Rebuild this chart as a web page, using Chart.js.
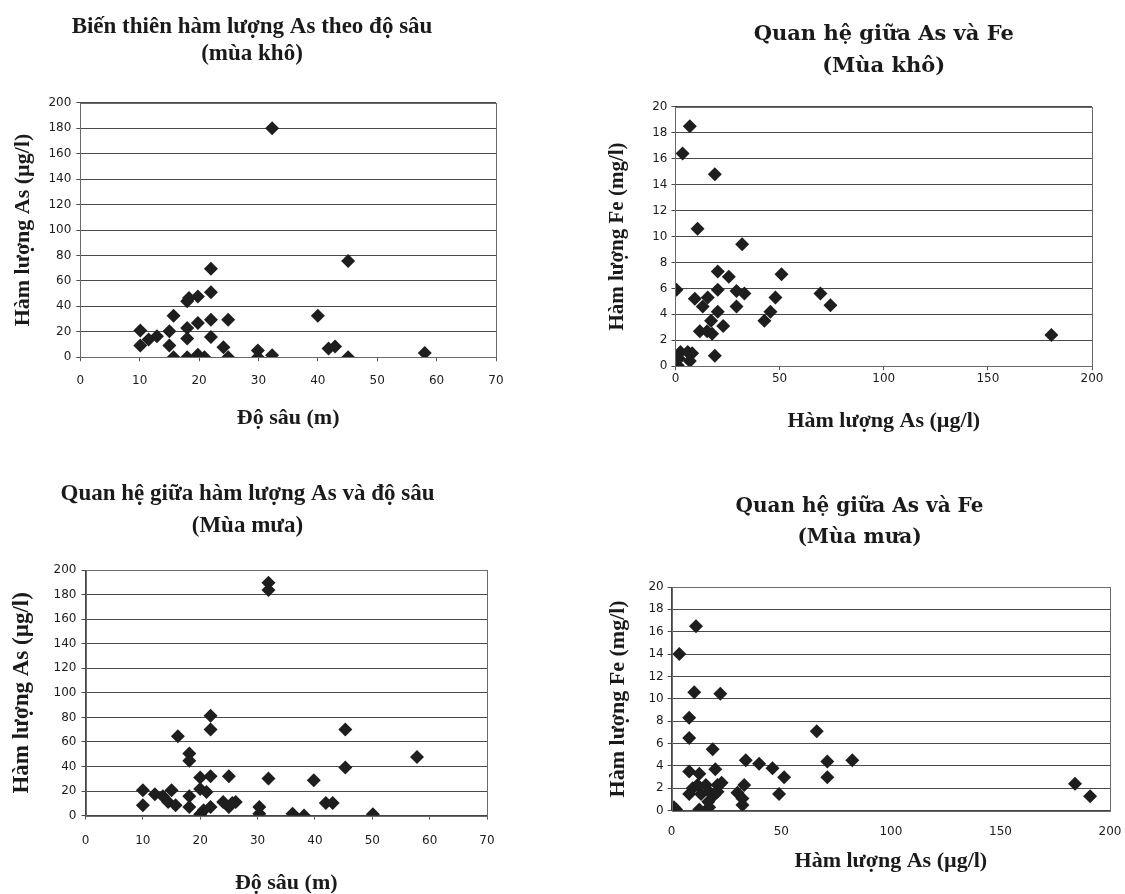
<!DOCTYPE html>
<html>
<head>
<meta charset="utf-8">
<script src="https://cdn.jsdelivr.net/npm/chart.js@4.4.1/dist/chart.umd.min.js"></script>
<style>
  html, body { margin: 0; padding: 0; background: #ffffff; }
  body { width: 1125px; height: 894px; position: relative; overflow: hidden; }
  .box { position: absolute; }
</style>
</head>
<body>
<div class="box" id="b1" style="left:0px;top:0px;width:540px;height:440px"><canvas id="c1"></canvas></div>
<div class="box" id="b2" style="left:600px;top:0px;width:525px;height:440px"><canvas id="c2"></canvas></div>
<div class="box" id="b3" style="left:0px;top:450px;width:510px;height:444px"><canvas id="c3"></canvas></div>
<div class="box" id="b4" style="left:600px;top:450px;width:525px;height:444px"><canvas id="c4"></canvas></div>
<script>
// ---------- DATA ----------
// Chart 1: dry season, depth (m) vs As (µg/l)
const depthDry = [32.3, 45.1, 22, 22, 19.8, 18, 18.3, 15.7, 40, 22, 24.9, 19.8, 18, 10.1, 15, 18, 22, 12.9, 11.5, 10.1, 15, 24.1, 41.8, 42.9, 29.9, 32.3, 29.9, 15.7, 18, 19.8, 20.9, 24.9, 45.1, 58];
const asDry    = [180, 75.7, 69.6, 51, 47.8, 44, 46.5, 32.6, 32.6, 29.4, 29.4, 26.8, 23, 21, 20.5, 14.7, 15.8, 16.5, 14, 9.2, 9.2, 7.9, 6.8, 8.4, 5.3, 1.6, 0, 0, 0, 2, 0, 0, 0, 3.4];

// Chart 2: dry season, As (µg/l) vs Fe (mg/l)
const asFeDryAs = [6.9, 3.4, 18.9, 10.6, 32, 20.3, 25.6, 50.9, 0.5, 20.3, 29.3, 33.1, 69.6, 9.3, 15.5, 48, 13.1, 29.3, 74.4, 20.3, 45.6, 42.7, 17.1, 22.9, 11.7, 15.2, 17.6, 18.9, 180.5, 0.5, 1.1, 2.4, 5.9, 8, 6.9, 0, 1.6];
const feDry     = [18.5, 16.4, 14.8, 10.6, 9.4, 7.3, 6.9, 7.1, 5.9, 5.9, 5.8, 5.6, 5.6, 5.2, 5.3, 5.3, 4.6, 4.6, 4.7, 4.2, 4.2, 3.5, 3.5, 3.1, 2.7, 2.7, 2.5, 0.8, 2.4, 0.7, 0.05, 1.1, 1.1, 1.0, 0.4, 0.4, 0.6];

// Chart 3: rainy season, depth (m) vs As (µg/l)
const depthWet = [31.9, 31.9, 21.8, 21.8, 45.3, 16.1, 18.1, 18.1, 57.8, 45.3, 20, 21.8, 25, 31.9, 39.8, 10, 15, 20, 21.1, 12.1, 13.5, 18.1, 14.4, 24, 26.2, 41.9, 43.1, 10, 15.7, 18.1, 21.8, 25, 20.6, 30.3, 30.3, 20, 36.1, 38.1, 50.1, 25.6];
const asWet    = [189.7, 183.7, 81.3, 70.1, 70.1, 64.7, 50.5, 44.6, 47.8, 39.1, 31, 32, 32, 30.2, 28.8, 20.6, 20.6, 21.7, 19.3, 17.4, 15.8, 15.8, 11.1, 11.1, 11.1, 10.3, 10.3, 8.4, 8.4, 7.1, 7.1, 7.1, 4.3, 7.1, 1.6, 1.1, 1.6, 0, 1.1, 10.3];

// Chart 4: rainy season, As (µg/l) vs Fe (mg/l)
const asFeWetAs = [11.1, 3.5, 10.3, 22.2, 8, 8, 66.2, 18.7, 33.8, 39.9, 46, 71, 82.4, 8, 12.6, 19.9, 51.3, 71, 33.1, 184, 190.9, 49, 30, 32.3, 32.3, 12.6, 17.1, 2, 1, 8, 9.6, 11.8, 13.4, 15.6, 17.1, 19.4, 20.9, 22.8, 20.9, 16.7];
const feWet     = [16.5, 14, 10.6, 10.45, 8.3, 6.5, 7.1, 5.5, 4.5, 4.2, 3.8, 4.4, 4.5, 3.5, 3.3, 3.7, 3.0, 3.0, 2.3, 2.4, 1.3, 1.5, 1.6, 1.1, 0.5, 0.1, 0.3, 0.1, 0.3, 1.5, 2.0, 2.3, 1.5, 2.3, 1.7, 1.4, 2.3, 2.5, 1.7, 0.8];

// Tick labels
const depthTicks = [0, 10, 20, 30, 40, 50, 60, 70];
const asTicks    = [0, 20, 40, 60, 80, 100, 120, 140, 160, 180, 200];
const asXTicks   = [0, 50, 100, 150, 200];
const feTicks    = [0, 2, 4, 6, 8, 10, 12, 14, 16, 18, 20];

// Texts
const titles = [
  ['Biến thiên hàm lượng As theo độ sâu', '(mùa khô)'],
  ['Quan hệ giữa As và Fe', '(Mùa khô)'],
  ['Quan hệ giữa hàm lượng As và độ sâu', '(Mùa mưa)'],
  ['Quan hệ giữa As và Fe', '(Mùa mưa)']
];
const xTitles = ['Độ sâu (m)', 'Hàm lượng As (µg/l)', 'Độ sâu (m)', 'Hàm lượng As (µg/l)'];
const yTitles = ['Hàm lượng As (µg/l)', 'Hàm lượng Fe (mg/l)', 'Hàm lượng As (µg/l)', 'Hàm lượng Fe (mg/l)'];

// ---------- RENDER ----------
const frame = {
  id: 'frame',
  afterDraw(chart) {
    const a = chart.chartArea, ctx = chart.ctx;
    ctx.save();
    ctx.strokeStyle = '#6a6a6a';
    ctx.lineWidth = 1;
    ctx.strokeRect(Math.round(a.left) + 0.5, Math.round(a.top) + 0.5, Math.round(a.right - a.left), Math.round(a.bottom - a.top));
    ctx.restore();
  }
};

function toPts(xs, ys) { return xs.map((x, i) => ({ x: x, y: ys[i] })); }

function make(id, xs, ys, xTicks, yTicks, cfg) {
  new Chart(document.getElementById(id), {
    type: 'scatter',
    data: { datasets: [{
      data: toPts(xs, ys),
      pointStyle: 'rectRot',
      pointRadius: 7,
      pointHoverRadius: 7,
      backgroundColor: '#1e1e1e',
      borderColor: '#1e1e1e',
      borderWidth: 0
    }]},
    options: {
      responsive: true,
      maintainAspectRatio: false,
      animation: false,
      layout: { padding: cfg.pad },
      plugins: {
        legend: { display: false },
        tooltip: { enabled: false },
        title: {
          display: true,
          text: cfg.title,
          fullSize: cfg.fullSize,
          color: '#1a1a1a',
          font: { family: cfg.titleFamily, size: cfg.titleSize, weight: 'bold', lineHeight: cfg.titleLH },
          padding: cfg.titlePad
        }
      },
      scales: {
        x: {
          type: 'linear',
          min: xTicks[0], max: xTicks[xTicks.length - 1],
          afterBuildTicks: s => { s.ticks = xTicks.map(v => ({ value: v })); },
          grid: { display: true, drawOnChartArea: false, drawTicks: true, tickLength: cfg.xTickLen || 4,
                  tickColor: cfg.xTickColor || '#555', color: '#555' },
          border: { display: true, color: '#444', width: 1 },
          ticks: { color: '#1c1c1c', font: { family: 'DejaVu Sans', size: 12 }, padding: cfg.xTickPad, maxRotation: 0 },
          title: { display: true, text: cfg.xTitle, color: '#1a1a1a',
                   font: { family: 'Liberation Serif', size: cfg.axisSize, weight: 'bold', lineHeight: cfg.axisLH },
                   padding: cfg.xTitlePad }
        },
        y: {
          type: 'linear',
          min: yTicks[0], max: yTicks[yTicks.length - 1],
          afterBuildTicks: s => { s.ticks = yTicks.map(v => ({ value: v })); },
          grid: { display: true, drawOnChartArea: true, drawTicks: true, tickLength: 4, color: '#4a4a4a', lineWidth: 1 },
          border: { display: true, color: '#444', width: 1 },
          ticks: { color: '#1c1c1c', font: { family: 'DejaVu Sans', size: 12 }, padding: cfg.yTickPad },
          title: { display: true, text: cfg.yTitle, color: '#1a1a1a',
                   font: { family: 'Liberation Serif', size: cfg.yAxisSize, weight: 'bold', lineHeight: 1.2 },
                   padding: cfg.yTitlePad }
        }
      }
    },
    plugins: [frame]
  });
}

make('c1', depthDry, asDry, depthTicks, asTicks, {
  title: titles[0], xTitle: xTitles[0], yTitle: yTitles[0], fullSize: true,
  titleFamily: 'Liberation Serif', titleSize: 23, titleLH: 1.17, titlePad: { top: 14, bottom: 35 },
  pad: { left: 8, right: 44, top: 0, bottom: 4 },
  axisSize: 22, axisLH: 1.2, yAxisSize: 22, xTickPad: 12, yTickPad: 5,
  xTitlePad: { top: 6, bottom: 4 }, yTitlePad: { top: 2, bottom: 7 }
});
make('c2', asFeDryAs, feDry, asXTicks, feTicks, {
  title: titles[1], xTitle: xTitles[1], yTitle: yTitles[1], fullSize: false,
  titleFamily: 'DejaVu Serif', titleSize: 21, titleLH: 1.52, titlePad: { top: 19, bottom: 24 },
  pad: { left: 3, right: 33, top: 0, bottom: 3 },
  axisSize: 22, axisLH: 1.2, yAxisSize: 21, xTickPad: 1, yTickPad: 4,
  xTitlePad: { top: 22, bottom: 2 }, yTitlePad: { top: 2, bottom: 18 }
});
make('c3', depthWet, asWet, depthTicks, asTicks, {
  title: titles[2], xTitle: xTitles[2], yTitle: yTitles[2], fullSize: true,
  titleFamily: 'Liberation Serif', titleSize: 23, titleLH: 1.35, titlePad: { top: 29, bottom: 29 },
  pad: { left: 8, right: 23, top: 0, bottom: 0 },
  axisSize: 22, axisLH: 1.0, yAxisSize: 23, xTickPad: 14, yTickPad: 5,
  xTitlePad: { top: 10, bottom: 0 }, yTitlePad: { top: 0, bottom: 13 }
});
make('c4', asFeWetAs, feWet, asXTicks, feTicks, {
  title: titles[3], xTitle: xTitles[3], yTitle: yTitles[3], fullSize: true,
  titleFamily: 'DejaVu Serif', titleSize: 20, titleLH: 1.55, titlePad: { top: 41, bottom: 34 },
  pad: { left: 3, right: 9, top: 0, bottom: 17 },
  axisSize: 22, axisLH: 1.2, yAxisSize: 22, xTickPad: 3.5, xTickLen: 10.5, xTickColor: 'rgba(0,0,0,0)', yTickPad: 4,
  xTitlePad: { top: 6, bottom: 2 }, yTitlePad: { top: 2, bottom: 13 }
});
</script>
</body>
</html>
